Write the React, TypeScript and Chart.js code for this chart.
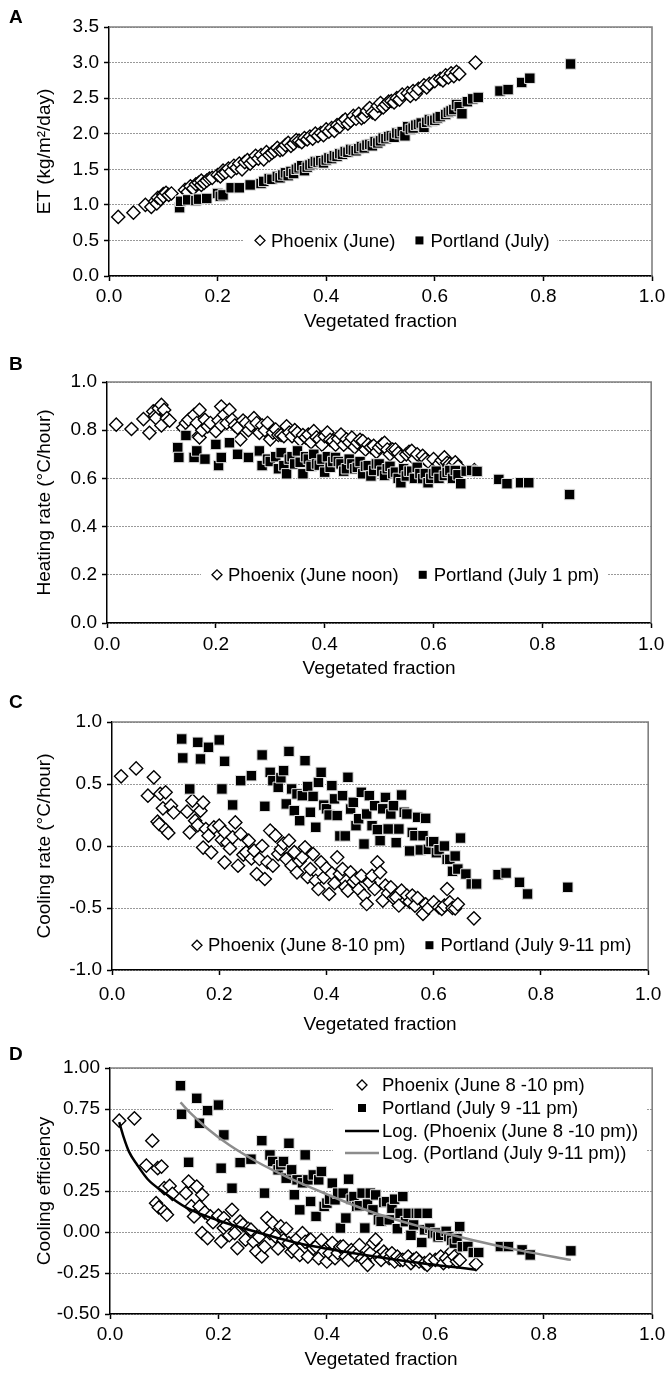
import React, { useEffect, useRef } from 'react';
import { Chart, registerables } from 'chart.js';

Chart.register(...registerables);

const FONT = "'Liberation Sans', Arial, Helvetica, sans-serif";
Chart.defaults.font.family = FONT;
Chart.defaults.color = '#000';

const W = 670;

// ---------------- DATA ----------------
const xTicks = [0, 0.2, 0.4, 0.6, 0.8, 1.0];
const etTicks = [0, 0.5, 1.0, 1.5, 2.0, 2.5, 3.0, 3.5];
const heatTicks = [0, 0.2, 0.4, 0.6, 0.8, 1.0];
const coolTicks = [-1.0, -0.5, 0, 0.5, 1.0];
const effTicks = [-0.5, -0.25, 0, 0.25, 0.5, 0.75, 1.0];

// vegetated fraction of the Phoenix neighbourhoods
const phoenixVeg = [
  0.017, 0.045, 0.067, 0.078, 0.085, 0.088, 0.09, 0.095, 0.1, 0.1,
  0.105, 0.11, 0.115, 0.14, 0.145, 0.15, 0.155, 0.16, 0.165, 0.17,
  0.17, 0.175, 0.18, 0.185, 0.19, 0.2, 0.205, 0.21, 0.21, 0.215,
  0.22, 0.225, 0.23, 0.235, 0.24, 0.245, 0.25, 0.255, 0.26, 0.265,
  0.27, 0.275, 0.28, 0.285, 0.29, 0.295, 0.3, 0.305, 0.31, 0.315,
  0.32, 0.325, 0.33, 0.335, 0.34, 0.345, 0.35, 0.355, 0.36, 0.365,
  0.37, 0.375, 0.38, 0.385, 0.39, 0.395, 0.4, 0.405, 0.41, 0.415,
  0.42, 0.425, 0.43, 0.435, 0.44, 0.445, 0.45, 0.455, 0.46, 0.465,
  0.47, 0.475, 0.48, 0.485, 0.49, 0.495, 0.5, 0.505, 0.51, 0.515,
  0.52, 0.525, 0.53, 0.535, 0.54, 0.55, 0.555, 0.56, 0.565, 0.57,
  0.58, 0.585, 0.59, 0.6, 0.61, 0.615, 0.62, 0.625, 0.63, 0.635,
  0.64, 0.645, 0.675,
];

// vegetated fraction of the Portland neighbourhoods
const portlandVeg = [
  0.13, 0.132, 0.145, 0.16, 0.165, 0.18, 0.2, 0.205, 0.21, 0.225,
  0.24, 0.26, 0.28, 0.285, 0.295, 0.3, 0.31, 0.315, 0.32, 0.325,
  0.33, 0.335, 0.34, 0.345, 0.35, 0.355, 0.36, 0.365, 0.37, 0.375,
  0.38, 0.385, 0.39, 0.395, 0.4, 0.405, 0.41, 0.415, 0.42, 0.425,
  0.43, 0.435, 0.44, 0.445, 0.45, 0.455, 0.46, 0.465, 0.47, 0.475,
  0.48, 0.485, 0.49, 0.495, 0.5, 0.505, 0.51, 0.515, 0.52, 0.525,
  0.53, 0.535, 0.54, 0.545, 0.55, 0.555, 0.56, 0.565, 0.57, 0.575,
  0.58, 0.585, 0.59, 0.595, 0.6, 0.605, 0.61, 0.62, 0.625, 0.63,
  0.635, 0.64, 0.645, 0.65, 0.66, 0.67, 0.68, 0.72, 0.735, 0.76,
  0.775, 0.85,
];

// A: ET (kg/m2/day)
const etPhoenix = [
  0.83, 0.89, 1.00, 0.97, 1.05, 1.02, 1.10, 1.08, 1.15, 1.12,
  1.17, 1.14, 1.16, 1.21, 1.18, 1.26, 1.23, 1.29, 1.31, 1.28,
  1.34, 1.31, 1.34, 1.37, 1.38, 1.42, 1.40, 1.48, 1.44, 1.46,
  1.51, 1.47, 1.55, 1.52, 1.58, 1.50, 1.60, 1.63, 1.58, 1.62,
  1.69, 1.65, 1.70, 1.64, 1.74, 1.70, 1.73, 1.76, 1.80, 1.77,
  1.78, 1.84, 1.87, 1.83, 1.86, 1.91, 1.90, 1.88, 1.94, 1.92,
  1.96, 1.93, 2.00, 1.97, 2.01, 1.98, 2.06, 2.03, 2.08, 2.04,
  2.12, 2.10, 2.17, 2.20, 2.14, 2.18, 2.25, 2.21, 2.28, 2.22,
  2.24, 2.32, 2.36, 2.30, 2.28, 2.39, 2.43, 2.37, 2.41, 2.45,
  2.46, 2.44, 2.50, 2.48, 2.55, 2.57, 2.53, 2.60, 2.56, 2.63,
  2.68, 2.65, 2.70, 2.74, 2.77, 2.75, 2.82, 2.79, 2.85, 2.81,
  2.87, 2.84, 3.00,
];
const etPortland = [
  0.96, 1.05, 1.07, 1.06, 1.08, 1.09, 1.16, 1.12, 1.14, 1.24,
  1.24, 1.28, 1.30, 1.33, 1.37, 1.36, 1.40, 1.38, 1.42, 1.45,
  1.41, 1.47, 1.44, 1.50, 1.52, 1.55, 1.48, 1.53, 1.56, 1.58,
  1.61, 1.60, 1.62, 1.59, 1.63, 1.66, 1.65, 1.69, 1.68, 1.72,
  1.71, 1.75, 1.74, 1.78, 1.77, 1.76, 1.79, 1.82, 1.80, 1.84,
  1.85, 1.83, 1.89, 1.87, 1.90, 1.94, 1.93, 1.96, 1.97, 1.95,
  2.01, 2.00, 2.03, 1.97, 2.10, 2.06, 2.08, 2.12, 2.13, 2.15,
  2.09, 2.16, 2.20, 2.18, 2.19, 2.22, 2.24, 2.27, 2.30, 2.32,
  2.34, 2.41, 2.38, 2.28, 2.45, 2.49, 2.51, 2.60, 2.62, 2.72,
  2.78, 2.98,
];

// B: heating rate (°C/hour)
const heatPhoenix = [
  0.823, 0.805, 0.846, 0.789, 0.878, 0.86, 0.85, 0.891, 0.82, 0.905,
  0.884, 0.85, 0.84, 0.81, 0.83, 0.843, 0.80, 0.864, 0.83, 0.884,
  0.77, 0.80, 0.843, 0.816, 0.83, 0.796, 0.84, 0.898, 0.82, 0.864,
  0.83, 0.884, 0.843, 0.82, 0.81, 0.762, 0.84, 0.83, 0.80, 0.82,
  0.85, 0.83, 0.789, 0.82, 0.80, 0.83, 0.762, 0.79, 0.803, 0.78,
  0.78, 0.775, 0.816, 0.79, 0.775, 0.80, 0.789, 0.76, 0.78, 0.77,
  0.782, 0.75, 0.796, 0.77, 0.762, 0.74, 0.775, 0.79, 0.76, 0.755,
  0.74, 0.765, 0.782, 0.74, 0.762, 0.75, 0.769, 0.73, 0.748, 0.76,
  0.755, 0.72, 0.74, 0.73, 0.735, 0.71, 0.728, 0.74, 0.748, 0.72,
  0.70, 0.72, 0.72, 0.705, 0.69, 0.70, 0.71, 0.714, 0.68, 0.70,
  0.694, 0.68, 0.67, 0.68, 0.66, 0.675, 0.687, 0.665, 0.66, 0.655,
  0.667, 0.65, 0.635,
];
const heatPortland = [
  0.728, 0.687, 0.778, 0.687, 0.714, 0.68, 0.741, 0.653, 0.687, 0.748,
  0.70, 0.687, 0.714, 0.653, 0.68, 0.67, 0.69, 0.64, 0.707, 0.653,
  0.619, 0.68, 0.69, 0.66, 0.714, 0.667, 0.619, 0.69, 0.68, 0.65,
  0.70, 0.66, 0.655, 0.68, 0.626, 0.69, 0.646, 0.67, 0.687, 0.67,
  0.66, 0.63, 0.64, 0.68, 0.66, 0.64, 0.646, 0.67, 0.619, 0.65,
  0.653, 0.61, 0.633, 0.66, 0.66, 0.63, 0.612, 0.64, 0.65, 0.62,
  0.626, 0.60, 0.582, 0.64, 0.61, 0.63, 0.63, 0.60, 0.646, 0.62,
  0.599, 0.62, 0.582, 0.60, 0.619, 0.63, 0.60, 0.612, 0.625, 0.633,
  0.60, 0.633, 0.615, 0.578, 0.63, 0.633, 0.629, 0.596, 0.578, 0.582,
  0.582, 0.533,
];

// C: cooling rate (°C/hour)
const coolPhoenix = [
  0.562, 0.626, 0.406, 0.554, 0.196, 0.177, 0.42, 0.304, 0.433, 0.132,
  0.105, 0.325, 0.27, 0.277, 0.11, 0.366, 0.204, 0.169, 0.285, 0.35,
  -0.013, 0.137, 0.083, -0.051, 0.15, 0.164, 0.05, 0.11, -0.132, 0.027,
  -0.02, 0.07, 0.19, -0.159, 0.097, -0.07, -0.051, 0.043, -0.10, -0.038,
  -0.226, -0.105, 0.0, -0.266, -0.13, 0.124, -0.159, 0.083, -0.065, -0.024,
  0.02, -0.105, 0.043, -0.159, -0.05, -0.212, -0.12, -0.091, -0.011, -0.25,
  -0.186, -0.065, -0.28, -0.347, -0.132, -0.253, -0.18, -0.387, -0.22, -0.30,
  -0.091, -0.226, -0.186, -0.33, -0.36, -0.212, -0.29, -0.266, -0.35, -0.24,
  -0.40, -0.468, -0.293, -0.24, -0.347, -0.132, -0.212, -0.44, -0.32, -0.38,
  -0.333, -0.42, -0.414, -0.48, -0.36, -0.40, -0.45, -0.40, -0.481, -0.42,
  -0.548, -0.47, -0.50, -0.454, -0.495, -0.508, -0.48, -0.347, -0.454, -0.50,
  -0.503, -0.47, -0.583,
];
const coolPortland = [
  0.863, 0.71, 0.46, 0.836, 0.702, 0.796, 0.855, 0.46, 0.683, 0.331,
  0.527, 0.567, 0.734, 0.32, 0.594, 0.527, 0.473, 0.55, 0.608, 0.339,
  0.763, 0.46, 0.285, 0.42, 0.204, 0.406, 0.688, 0.48, 0.272, 0.40,
  0.151, 0.513, 0.594, 0.33, 0.30, 0.25, 0.487, 0.38, 0.245, 0.081,
  0.406, 0.081, 0.554, 0.298, 0.352, 0.164, 0.22, 0.433, 0.016, 0.258,
  0.406, 0.164, 0.325, 0.132, 0.043, 0.30, 0.392, 0.137, 0.258, 0.325,
  0.027, 0.137, 0.411, 0.272, 0.258, -0.04, 0.11, 0.083, 0.231, -0.032,
  0.083, 0.223, -0.027, 0.035, 0.035, -0.054, -0.03, 0.0, -0.108, -0.108,
  -0.204, -0.081, -0.186, 0.064, -0.226, -0.306, -0.306, -0.231, -0.218, -0.293,
  -0.387, -0.333,
];

// D: cooling efficiency
const effPhoenix = [
  0.679, 0.693, 0.405, 0.557, 0.176, 0.389, 0.15, 0.399, 0.267, 0.125,
  0.105, 0.281, 0.233, 0.237, 0.308, 0.156, 0.095, 0.277, 0.156, 0.227,
  -0.007, 0.12, -0.037, 0.095, 0.06, 0.1, -0.057, 0.085, 0.024, 0.04,
  -0.02, 0.135, -0.007, -0.098, 0.064, 0.044, -0.047, 0.02, 0.014, -0.06,
  -0.118, -0.03, -0.149, -0.09, 0.085, -0.007, 0.054, -0.027, -0.10, 0.034,
  -0.05, 0.02, -0.067, -0.12, -0.108, -0.04, -0.14, -0.007, -0.06, -0.15,
  -0.047, -0.10, -0.088, -0.16, -0.05, -0.118, -0.18, -0.13, -0.067, -0.16,
  -0.128, -0.09, -0.088, -0.15, -0.17, -0.11, -0.118, -0.14, -0.08, -0.16,
  -0.179, -0.20, -0.128, -0.068, -0.047, -0.15, -0.17, -0.12, -0.14, -0.16,
  -0.13, -0.18, -0.15, -0.17, -0.17, -0.15, -0.19, -0.17, -0.16, -0.18,
  -0.19, -0.20, -0.17, -0.17, -0.15, -0.19, -0.16, -0.18, -0.12, -0.15,
  -0.18, -0.17, -0.196,
];
const effPortland = [
  0.892, 0.718, 0.425, 0.815, 0.663, 0.74, 0.774, 0.389, 0.592, 0.267,
  0.423, 0.444, 0.557, 0.237, 0.47, 0.43, 0.379, 0.41, 0.43, 0.328,
  0.541, 0.379, 0.227, 0.318, 0.135, 0.30, 0.47, 0.318, 0.186, 0.348,
  0.095, 0.318, 0.369, 0.156, 0.176, 0.20, 0.298, 0.196, 0.237, 0.024,
  0.237, 0.085, 0.322, 0.20, 0.216, 0.156, 0.16, 0.237, 0.024, 0.17,
  0.237, 0.135, 0.226, 0.074, 0.065, 0.18, 0.185, 0.074, 0.145, 0.20,
  0.02, 0.114, 0.216, 0.063, 0.114, -0.02, 0.043, 0.114, 0.114, -0.064,
  0.013, 0.114, 0.023, -0.01, -0.006, -0.03, -0.02, 0.004, -0.028, -0.05,
  -0.068, -0.04, 0.033, -0.09, -0.088, -0.125, -0.125, -0.089, -0.089, -0.109,
  -0.14, -0.115,
];

// D: logarithmic trend lines
const phoenixLogX = [0.017, 0.025, 0.035, 0.05, 0.07, 0.1, 0.14, 0.2, 0.27, 0.35, 0.45, 0.55, 0.675];
const phoenixLogY = [0.67, 0.58, 0.49, 0.41, 0.32, 0.24, 0.15, 0.07, 0.0, -0.07, -0.13, -0.18, -0.23];
const portlandLogX = [0.13, 0.15, 0.18, 0.22, 0.27, 0.33, 0.4, 0.48, 0.57, 0.67, 0.76, 0.85];
const portlandLogY = [0.79, 0.72, 0.63, 0.53, 0.43, 0.33, 0.23, 0.125, 0.035, -0.05, -0.115, -0.17];

// ---------------- LAYOUT / STYLE ----------------
const TICK_SIZE = 19;
const TITLE_SIZE = 19;
const LEGEND_SIZE = 18.5;

function pts(xs: number[], ys: number[]) {
  return xs.map((x, i) => ({ x, y: ys[i] }));
}

type Spec = any;

const panels: Spec[] = [
  {
    letter: 'A', top: 0, height: 336, plotTop: 27, plotBottom: 276, plotLeft: 109, plotRight: 652,
    xTickPad: 4.6, titleY: 322, letterY: 18,
    yTitle: 'ET (kg/m²/day)', yMin: 0, yMax: 3.5, yTicks: etTicks, yDec: 1,
    phoenix: etPhoenix, portland: etPortland,
    legend: { type: 'row', startX: 260, yValue: 0.5, items: [
      { kind: 'diamond', label: 'Phoenix (June)' }, { kind: 'square', label: 'Portland (July)' }] },
  },
  {
    letter: 'B', top: 336, height: 347, plotTop: 46, plotBottom: 287, plotLeft: 107, plotRight: 654,
    xTickPad: 5.6, titleY: 333, letterY: 29,
    yTitle: 'Heating rate (°C/hour)', yMin: 0, yMax: 1, yTicks: heatTicks, yDec: 1,
    phoenix: heatPhoenix, portland: heatPortland,
    legend: { type: 'row', startX: 217, yValue: 0.2, items: [
      { kind: 'diamond', label: 'Phoenix (June noon)' }, { kind: 'square', label: 'Portland (July 1 pm)' }] },
  },
  {
    letter: 'C', top: 683, height: 356, plotTop: 39, plotBottom: 287, plotLeft: 112, plotRight: 655,
    xTickPad: 8.6, titleY: 342, letterY: 20,
    yTitle: 'Cooling rate (°C/hour)', yMin: -1, yMax: 1, yTicks: coolTicks, yDec: 1,
    phoenix: coolPhoenix, portland: coolPortland,
    legend: { type: 'row', startX: 197, yValue: -0.8, items: [
      { kind: 'diamond', label: 'Phoenix (June 8-10 pm)' }, { kind: 'square', label: 'Portland (July 9-11 pm)' }] },
  },
  {
    letter: 'D', top: 1039, height: 334, plotTop: 29, plotBottom: 275, plotLeft: 110, plotRight: 656,
    xTickPad: 4.6, titleY: 321, letterY: 16,
    yTitle: 'Cooling efficiency', yMin: -0.5, yMax: 1, yTicks: effTicks, yDec: 2,
    phoenix: effPhoenix, portland: effPortland,
    trends: [
      { x: phoenixLogX, y: phoenixLogY, color: '#000000' },
      { x: portlandLogX, y: portlandLogY, color: '#8c8c8c' },
    ],
    legend: { type: 'col', markerX: 362, textX: 382, rowsY: [46, 69, 92, 114], box: [333, 34, 647, 126], items: [
      { kind: 'diamond', label: 'Phoenix (June 8 -10 pm)' },
      { kind: 'square', label: 'Portland (July 9 -11 pm)' },
      { kind: 'line', color: '#000000', label: 'Log. (Phoenix (June 8 -10 pm))' },
      { kind: 'line', color: '#8c8c8c', label: 'Log. (Portland (July 9-11 pm))' }] },
  },
];

function drawMarker(ctx: CanvasRenderingContext2D, item: any, x: number, y: number) {
  ctx.save();
  if (item.kind === 'diamond') {
    const r = 5;
    ctx.beginPath();
    ctx.moveTo(x - r, y); ctx.lineTo(x, y - r); ctx.lineTo(x + r, y); ctx.lineTo(x, y + r);
    ctx.closePath();
    ctx.fillStyle = '#fff'; ctx.fill();
    ctx.strokeStyle = '#000'; ctx.lineWidth = 1.3; ctx.stroke();
  } else if (item.kind === 'square') {
    ctx.fillStyle = '#000';
    ctx.fillRect(x - 4, y - 4, 8, 8);
  } else {
    ctx.strokeStyle = item.color; ctx.lineWidth = 2.5;
    ctx.beginPath(); ctx.moveTo(x - 17, y); ctx.lineTo(x + 17, y); ctx.stroke();
  }
  ctx.restore();
}

function decorPlugin(spec: Spec) {
  return {
    id: 'decor' + spec.letter,
    afterDatasetsDraw(chart: any) {
      const { ctx, chartArea: a } = chart;
      ctx.save();
      // plot frame (top & right)
      ctx.strokeStyle = '#808080';
      ctx.lineWidth = 1.6;
      ctx.beginPath();
      ctx.moveTo(a.left, a.top);
      ctx.lineTo(a.right, a.top);
      ctx.lineTo(a.right, a.bottom);
      ctx.stroke();

      // legend
      const lg = spec.legend;
      ctx.font = `${LEGEND_SIZE}px ${FONT}`;
      ctx.textBaseline = 'middle';
      ctx.textAlign = 'left';
      if (lg.type === 'row') {
        const y = chart.scales.y.getPixelForValue(lg.yValue);
        const layout: any[] = [];
        let m = lg.startX;
        let end = m;
        lg.items.forEach((it: any) => {
          const tx = m + 11;
          const w = ctx.measureText(it.label).width;
          layout.push({ it, m, tx });
          end = tx + w;
          m = end + 24;
        });
        ctx.fillStyle = '#fff';
        ctx.fillRect(lg.startX - 16, y - 11, end + 8 - (lg.startX - 16), 22);
        layout.forEach((l) => {
          drawMarker(ctx, l.it, l.m, y);
          ctx.fillStyle = '#000';
          ctx.fillText(l.it.label, l.tx, y + 1);
        });
      } else {
        const [x1, y1, x2, y2] = lg.box;
        ctx.fillStyle = '#fff';
        ctx.fillRect(x1, y1, x2 - x1, y2 - y1);
        lg.items.forEach((it: any, i: number) => {
          const y = lg.rowsY[i];
          drawMarker(ctx, it, lg.markerX, y);
          ctx.fillStyle = '#000';
          ctx.fillText(it.label, lg.textX, y + 1);
        });
      }

      // panel letter
      ctx.font = `bold 19px ${FONT}`;
      ctx.fillStyle = '#000';
      ctx.textBaseline = 'middle';
      ctx.fillText(spec.letter, 9, spec.letterY);
      ctx.restore();
    },
  };
}

function buildConfig(spec: Spec): any {
  const lh = TITLE_SIZE * 1.2;
  const xAxisH = spec.titleY + lh / 2 - spec.plotBottom;
  const datasets: any[] = [];
  (spec.trends || []).forEach((t: any) => {
    datasets.push({
      data: pts(t.x, t.y), showLine: true, borderColor: t.color, borderWidth: 2.5,
      pointRadius: 0, fill: false, cubicInterpolationMode: 'monotone',
    });
  });
  datasets.push({
    label: 'Portland', data: pts(portlandVeg, spec.portland),
    pointStyle: 'rect', pointRadius: 7.4,
    pointBackgroundColor: '#000', backgroundColor: '#000',
    pointBorderColor: '#e4e4e4', borderColor: '#e4e4e4', pointBorderWidth: 1, borderWidth: 1,
  });
  datasets.push({
    label: 'Phoenix', data: pts(phoenixVeg, spec.phoenix),
    pointStyle: 'rectRot', pointRadius: 6.6,
    pointBackgroundColor: '#fff', backgroundColor: '#fff',
    pointBorderColor: '#000', borderColor: '#000', pointBorderWidth: 1.4, borderWidth: 1.4,
  });

  return {
    type: 'scatter',
    data: { datasets },
    options: {
      animation: false,
      responsive: false,
      maintainAspectRatio: false,
      events: [],
      layout: {
        padding: {
          top: spec.plotTop,
          right: W - spec.plotRight,
          bottom: Math.max(0, spec.height - spec.plotBottom - xAxisH),
          left: 0,
        },
      },
      plugins: { legend: { display: false }, tooltip: { enabled: false }, title: { display: false } },
      scales: {
        x: {
          type: 'linear', position: 'bottom', min: 0, max: 1,
          afterBuildTicks: (s: any) => { s.ticks = xTicks.map((v) => ({ value: v })); },
          ticks: {
            callback: (v: any) => Number(v).toFixed(1),
            font: { size: TICK_SIZE }, color: '#000', padding: spec.xTickPad,
            maxRotation: 0, minRotation: 0, autoSkip: false,
          },
          grid: { drawOnChartArea: false, drawTicks: true, tickLength: 5, tickColor: '#000', tickWidth: 1.5 },
          border: { display: true, color: '#000', width: 1.5 },
          title: {
            display: true, text: 'Vegetated fraction', font: { size: TITLE_SIZE }, color: '#000',
            padding: { top: 0, bottom: 0 },
          },
          afterFit: (s: any) => { s.height = xAxisH; },
        },
        y: {
          type: 'linear', position: 'left', min: spec.yMin, max: spec.yMax,
          afterBuildTicks: (s: any) => { s.ticks = spec.yTicks.map((v: number) => ({ value: v })); },
          ticks: {
            callback: (v: any) => Number(v).toFixed(spec.yDec),
            font: { size: TICK_SIZE }, color: '#000', padding: 5, autoSkip: false,
          },
          grid: {
            color: '#333333', lineWidth: 1, drawTicks: true, tickLength: 5,
            tickColor: '#000', tickWidth: 1.5, tickBorderDash: [],
          },
          border: { display: true, color: '#000', width: 1.5, dash: [1, 2] },
          title: {
            display: true, text: spec.yTitle, font: { size: TITLE_SIZE }, color: '#000',
            padding: { top: 33.6, bottom: 0 },
          },
          afterFit: (s: any) => { s.width = spec.plotLeft; },
        },
      },
    },
    plugins: [decorPlugin(spec)],
  };
}

function PanelChart({ spec }: { spec: Spec }) {
  const ref = useRef<HTMLCanvasElement | null>(null);
  useEffect(() => {
    if (!ref.current) return;
    const chart = new Chart(ref.current, buildConfig(spec));
    return () => chart.destroy();
  }, [spec]);
  return (
    <canvas
      ref={ref}
      width={W}
      height={spec.height}
      style={{ position: 'absolute', left: 0, top: spec.top, width: W, height: spec.height, display: 'block' }}
    />
  );
}

export default function App() {
  return (
    <div style={{ position: 'absolute', left: 0, top: 0, width: W, height: 1373, background: '#fff' }}>
      {panels.map((p) => (
        <PanelChart key={p.letter} spec={p} />
      ))}
    </div>
  );
}
